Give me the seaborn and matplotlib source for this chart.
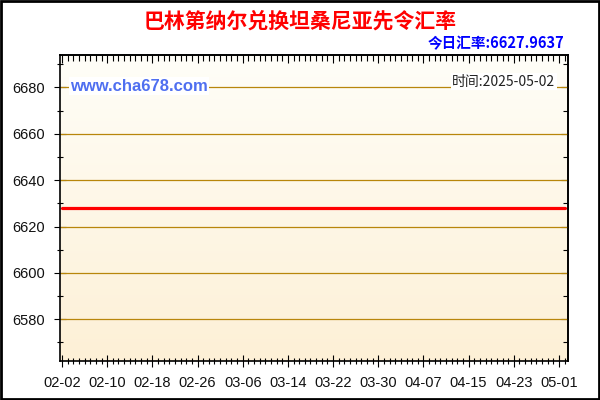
import numpy as np
import pandas as pd
import matplotlib
matplotlib.use("Agg")
import matplotlib.pyplot as plt
import matplotlib.dates as mdates
from matplotlib.colors import LinearSegmentedColormap
import seaborn as sns

# ---------------------------------
# DATA
# ---------------------------------
start_date = "2025-02-02"
end_date = "2025-05-02"
rate_value = 6627.9637          # flat series across the whole window
tick_labels = ["02-02", "02-10", "02-18", "02-26", "03-06", "03-14",
               "03-22", "03-30", "04-07", "04-15", "04-23", "05-01"]
y_ticks = [6580, 6600, 6620, 6640, 6660, 6680]

dates = pd.date_range(start_date, end_date, freq="D")
rates = [rate_value] * len(dates)
df = pd.DataFrame({"date": dates, "rate": rates})

# ---------------------------------
# STYLE
# ---------------------------------
sns.set_style("white")
plt.rcParams["font.family"] = ["Liberation Sans", "Noto Sans CJK SC", "DejaVu Sans"]
cjk = ["Noto Sans CJK SC", "DejaVu Sans"]

fig = plt.figure(figsize=(6, 4), dpi=100)
ax = fig.add_axes([0.1, 0.0975, 0.8467, 0.765])

# background gradient inside plot area
grad = LinearSegmentedColormap.from_list("bg", ["#fdf0d6", "#fffef8"])
ax.imshow(np.linspace(0, 1, 256).reshape(-1, 1), aspect="auto", cmap=grad,
          origin="lower", extent=[0, 1, 0, 1], transform=ax.transAxes, zorder=0)

for y in y_ticks:
    ax.axhline(y, color="#b8860b", lw=0.9, zorder=1)

sns.lineplot(data=df, x="date", y="rate", color="#ff0000", lw=2.3, ax=ax, zorder=3)

# ---------------------------------
# AXES
# ---------------------------------
x0 = pd.Timestamp(start_date)
ax.set_xlim(mdates.date2num(x0 - pd.Timedelta(hours=8.5)),
            mdates.date2num(x0 + pd.Timedelta(days=89.6)))
ax.set_ylim(6562, 6694)

tick_pos = [mdates.date2num(pd.Timestamp("2025-" + t)) for t in tick_labels]
ax.set_xticks(tick_pos)
ax.set_xticklabels(tick_labels)
ax.xaxis.set_minor_locator(mdates.DayLocator())
ax.set_yticks(y_ticks)
ax.set_yticklabels([str(v) for v in y_ticks])
ax.yaxis.set_minor_locator(plt.MultipleLocator(10))

ax.tick_params(which="both", direction="inout", bottom=True, left=True,
               top=False, right=False, color="black", width=0.8,
               labelsize=10.5, labelcolor="#111111")
ax.tick_params(which="major", length=8)
ax.tick_params(axis="y", which="major", pad=7)
ax.tick_params(axis="x", which="major", pad=7)
ax.tick_params(which="minor", length=5)
for s in ax.spines.values():
    s.set_color("black")
    s.set_linewidth(1.2)
ax.set_xlabel("")
ax.set_ylabel("")

# inward ticks on top and right
top = ax.secondary_xaxis("top")
top.set_xticks(tick_pos)
top.xaxis.set_minor_locator(mdates.DayLocator())
top.tick_params(which="both", direction="in", labeltop=False, color="black", width=0.8)
top.tick_params(which="major", length=6)
top.tick_params(which="minor", length=4)
right = ax.secondary_yaxis("right")
right.set_yticks(y_ticks)
right.yaxis.set_minor_locator(plt.MultipleLocator(10))
right.tick_params(which="both", direction="in", labelright=False, color="black", width=0.8)
right.tick_params(which="major", length=5)
right.tick_params(which="minor", length=3.5)
for sec in (top, right):
    for s in sec.spines.values():
        s.set_color("black")
        s.set_linewidth(1.2)

# ---------------------------------
# TEXTS
# ---------------------------------
fig.text(0.5, 0.947, "巴林第纳尔兑换坦桑尼亚先令汇率", ha="center", va="center",
         color="#ff0000", fontsize=15, fontweight="bold", family=cjk)
fig.text(0.94, 0.893, "今日汇率:6627.9637", ha="right", va="center",
         color="#0000ff", fontsize=10.5, fontweight="bold", family=cjk)
ax.text(0.02, 6680.5, "www.cha678.com", transform=ax.get_yaxis_transform(),
        ha="left", va="center", color="#4f6ff0", fontsize=12, fontweight="bold",
        family=["Liberation Sans"], zorder=4,
        bbox=dict(facecolor="white", edgecolor="none", pad=1))
ax.text(0.975, 6682.5, "时间:2025-05-02", transform=ax.get_yaxis_transform(),
        ha="right", va="center", color="#222222", fontsize=10,
        family=cjk, zorder=4,
        bbox=dict(facecolor="white", edgecolor="none", pad=1))

# outer frame
fig.patches.append(plt.Rectangle((0.002, 0.003), 0.996, 0.994, transform=fig.transFigure,
                                 fill=False, edgecolor="black", lw=2))

fig.savefig("out.png", dpi=100)
